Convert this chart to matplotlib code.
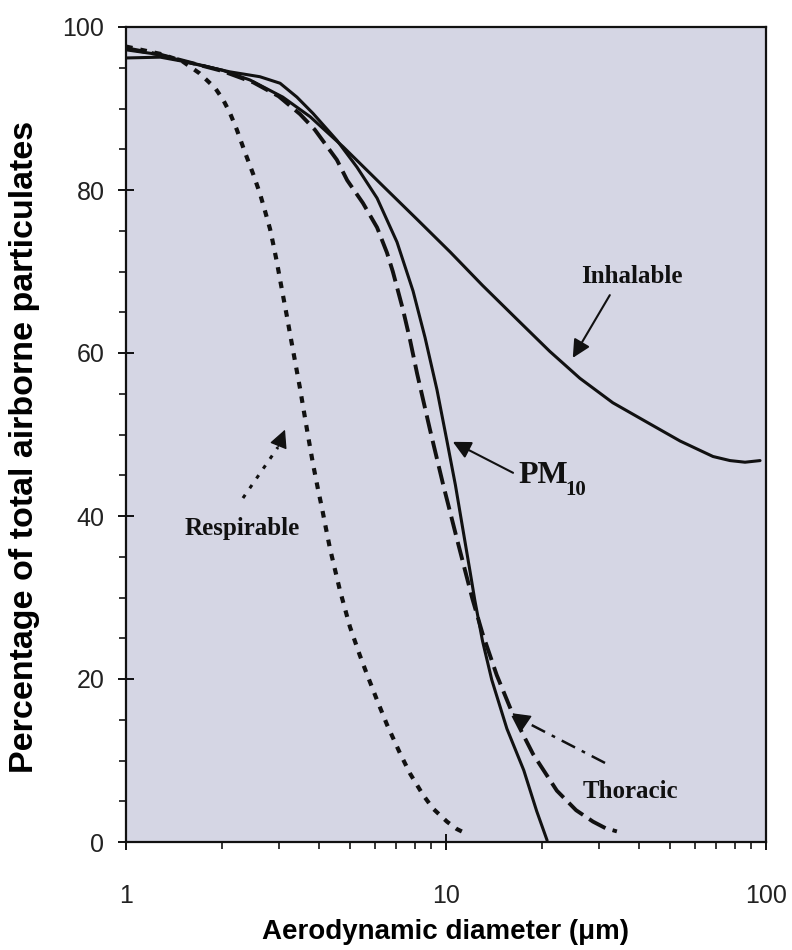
import matplotlib
matplotlib.use("Agg")
import matplotlib.pyplot as plt
from matplotlib.ticker import FixedLocator, NullFormatter, MultipleLocator

# Inhalable
inhal_d = [1.0, 1.28, 1.6, 2.0, 2.44, 3.09, 3.76, 4.77, 6.35, 8.12, 10.3, 13.0,
           16.7, 21.1, 26.2, 33.2, 42.5, 53.9, 68.3, 77.2, 86.0, 95.8]
inhal_y = [96.2, 96.3, 95.6, 94.7, 93.5, 91.4, 89.0, 85.3, 80.5, 76.4, 72.4, 68.3,
           64.1, 60.2, 56.9, 53.9, 51.5, 49.2, 47.3, 46.8, 46.6, 46.8]

# PM10
pm10_d = [1.0, 1.28, 1.58, 2.11, 2.62, 3.03, 3.42, 3.84, 4.56, 5.27, 6.09, 7.03,
          7.89, 8.6, 9.37, 10.07, 10.7, 11.3, 11.9, 12.3, 13.0, 13.9, 15.5, 17.5,
          19.2, 20.7]
pm10_y = [97.2, 96.6, 95.6, 94.5, 93.9, 93.1, 91.4, 89.4, 86.1, 82.8, 79.0, 73.6,
          67.6, 61.9, 55.5, 49.2, 43.8, 38.3, 33.1, 29.7, 24.7, 19.9, 13.9, 8.8,
          3.8, 0.2]

# Thoracic
thor_d = [1.0, 1.28, 1.6, 2.0, 2.5, 3.0, 3.5, 3.89, 4.56, 4.91, 5.50, 6.09, 6.54,
          6.82, 7.34, 7.72, 8.12, 8.91, 9.79, 10.8, 11.3, 12.1, 13.0, 14.4, 16.2,
          18.7, 22.2, 25.5, 28.8, 31.5, 34.2]
thor_y = [97.4, 96.6, 95.6, 94.6, 93.2, 91.5, 89.3, 87.4, 83.7, 81.2, 78.4, 75.4, 72.3,
          70.0, 65.3, 61.6, 57.5, 50.6, 43.9, 37.3, 34.3, 29.8, 25.6, 20.5, 15.6,
          10.8, 6.3, 3.9, 2.5, 1.7, 1.3]

# Respirable
resp_d = [1.0, 1.28, 1.5, 1.70, 1.90, 2.01, 2.11, 2.22, 2.35, 2.50, 2.62, 2.72, 2.82,
          2.88, 2.96, 3.03, 3.09, 3.19, 3.25, 3.50, 3.57, 3.70, 3.84, 3.98, 4.10,
          4.19, 4.34, 4.66, 5.01, 5.38, 5.66, 6.09, 6.54, 7.18, 7.72, 8.47, 9.11,
          10.07, 10.8, 11.6]
resp_y = [97.6, 96.7, 95.8, 94.3, 92.5, 91.1, 89.5, 87.4, 84.7, 81.9, 79.6, 77.4, 75.2,
          73.5, 71.2, 69.0, 67.2, 64.3, 62.5, 55.6, 53.6, 50.0, 46.4, 43.3, 40.9,
          39.0, 36.0, 30.9, 26.4, 22.9, 20.6, 17.4, 14.4, 10.9, 8.4, 5.8, 4.1,
          2.5, 1.6, 1.0]

x_ticks = [1, 10, 100]
x_ticklabels = ["1", "10", "100"]
y_ticks = [0, 20, 40, 60, 80, 100]

fig = plt.figure(figsize=(7.92, 9.5), dpi=100)
ax = fig.add_axes([126 / 792, 108 / 950, 640 / 792, 815 / 950])
ax.set_facecolor("#d5d6e4")

ax.plot(inhal_d, inhal_y, color="#111111", lw=2.2, solid_capstyle="round")
ax.plot(pm10_d, pm10_y, color="#111111", lw=2.2, solid_capstyle="round")
ax.plot(thor_d, thor_y, color="#111111", lw=2.8, linestyle=(0, (4.8, 1.9)))
ax.plot(resp_d, resp_y, color="#111111", lw=3.0, linestyle=(0, (1.6, 1.9)))

ax.set_xscale("log")
ax.set_xlim(1, 100)
ax.set_ylim(0, 100)

ax.xaxis.set_major_locator(FixedLocator(x_ticks))
ax.set_xticklabels(x_ticklabels)
ax.xaxis.set_minor_locator(FixedLocator([k * m for m in (1, 10) for k in range(2, 10)]))
ax.xaxis.set_minor_formatter(NullFormatter())
ax.set_yticks(y_ticks)
ax.yaxis.set_minor_locator(MultipleLocator(5))

tick_family = ["Liberation Sans", "DejaVu Sans"]
for lab in ax.get_xticklabels() + ax.get_yticklabels():
    lab.set_fontfamily(tick_family)
    lab.set_fontsize(18)
    lab.set_color("#222222")

ax.tick_params(axis="both", which="major", direction="inout", length=11, width=1.3)
ax.tick_params(axis="x", which="major", pad=25)
ax.tick_params(axis="y", which="major", pad=10)
ax.tick_params(axis="both", which="minor", direction="out", length=5, width=1.1)

for sp in ax.spines.values():
    sp.set_linewidth(1.6)
    sp.set_color("#111111")

lab_font = ["Liberation Sans", "DejaVu Sans"]
ax.set_xlabel("Aerodynamic diameter (\u03bcm)", fontsize=20, fontweight="bold",
              family=lab_font)
ax.xaxis.set_label_coords(0.5, -0.110)
ax.xaxis.label.set_va("center")
ax.set_ylabel("Percentage of total airborne particulates", fontsize=24.5,
              fontweight="bold", family=lab_font)
ax.yaxis.set_label_coords(-0.158, 0.485)
ax.yaxis.label.set_va("center")

serif = ["Liberation Serif", "DejaVu Serif"]
ann = dict(fontsize=18, fontweight="bold", family=serif, color="#111111")

# Inhalable
ax.text(38.1, 69.4, "Inhalable", ha="center", va="center", **ann)
ax.annotate("", xy=(24.9, 59.4), xytext=(32.5, 67.1),
            arrowprops=dict(arrowstyle="-|>", color="#111111", lw=1.5,
                            mutation_scale=27, shrinkA=0, shrinkB=0))

# PM10
ax.text(16.8, 44.0, "PM", ha="left", va="baseline", fontsize=23,
        fontweight="bold", family=serif, color="#111111")
ax.text(23.6, 42.6, "10", ha="left", va="baseline", fontsize=15,
        fontweight="bold", family=serif, color="#111111")
ax.annotate("", xy=(10.5, 49.1), xytext=(16.2, 45.3),
            arrowprops=dict(arrowstyle="-|>", color="#111111", lw=1.5,
                            mutation_scale=27, shrinkA=0, shrinkB=0))

# Respirable
ax.text(2.30, 37.7, "Respirable", ha="center", va="baseline", **ann)
ax.plot([2.32, 2.98], [42.2, 48.4], color="#111111", lw=2.2,
        linestyle=(0, (1.3, 2.6)))
ax.annotate("", xy=(3.14, 50.6), xytext=(2.98, 48.4),
            arrowprops=dict(arrowstyle="-|>", color="#111111", lw=1.0,
                            mutation_scale=28, shrinkA=0, shrinkB=0))

# Thoracic
ax.text(37.6, 5.4, "Thoracic", ha="center", va="baseline", **ann)
ax.plot([31.4, 17.4], [9.7, 14.9], color="#111111", lw=1.8,
        linestyle=(0, (6, 3, 1.5, 3)))
ax.annotate("", xy=(16.1, 15.8), xytext=(17.4, 14.9),
            arrowprops=dict(arrowstyle="-|>", color="#111111", lw=1.0,
                            mutation_scale=28, shrinkA=0, shrinkB=0))

fig.savefig("out.png", dpi=100)
